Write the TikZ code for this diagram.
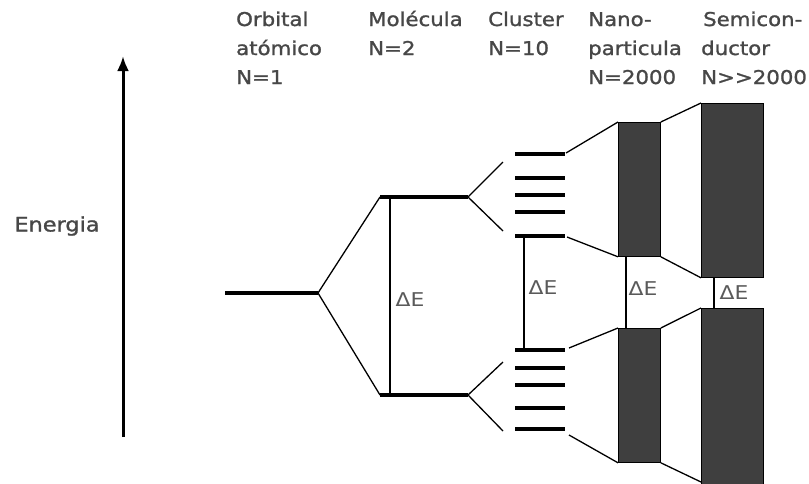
\documentclass[tikz,border=0pt]{standalone}
\usepackage{fontspec}
\usetikzlibrary{arrows.meta}
\newfontfamily\labfont[FakeStretch=1.12,FakeBold=1.3]{DejaVu Sans}
\newfontfamily\defont[FakeStretch=1.15]{DejaVu Sans}
\definecolor{txtgray}{HTML}{474747}
\definecolor{degray}{HTML}{5A5A5A}
\definecolor{bandgray}{HTML}{3F3F3F}
\tikzset{
  lab/.style={anchor=base west, inner sep=0pt, text=txtgray, font=\labfont\fontsize{19}{19}\selectfont},
  delab/.style={anchor=center, inner sep=0pt, text=degray, font=\defont\fontsize{19}{19}\selectfont},
  level/.style={line width=3.6pt},
  thin/.style={line width=1.3pt},
  gapline/.style={line width=1.6pt},
  band/.style={fill=bandgray, draw=black, line width=0.8pt},
}
\begin{document}
\begin{tikzpicture}[x=1pt,y=-1pt]
\useasboundingbox (0,0) rectangle (809,483);
% axis
\coordinate (eb) at (123,437);
\coordinate (et) at (123,56);
\draw[line width=3pt, -{Latex[length=15pt,width=12pt]}] (eb) -- (et);
\node[anchor=center, inner sep=0pt, text=txtgray, font=\labfont\fontsize{20}{20}\selectfont] (energia) at (57,226) {Energia};
% headers
\node[lab] (h11) at (236,26) {Orbital};
\node[lab] (h12) at (236,55) {atómico};
\node[lab] (h13) at (236,84) {N=1};
\node[lab] (h21) at (368,26) {Molécula};
\node[lab] (h22) at (368,55) {N=2};
\node[lab] (h31) at (488,26) {Cluster};
\node[lab] (h32) at (488,55) {N=10};
\node[lab] (h41) at (588,26) {Nano-};
\node[lab] (h42) at (588,55) {particula};
\node[lab] (h43) at (588,84) {N=2000};
\node[lab] (h51) at (703,26) {Semicon-};
\node[lab] (h52) at (701,55) {ductor};
\node[lab] (h53) at (701,84) {N>>2000};
% atomic orbital
\coordinate (a1) at (225,293);
\coordinate (a2) at (318,293);
\draw[level] (a1) -- (a2);
% molecule
\coordinate (m1t) at (380,197); \coordinate (m2t) at (468,197);
\coordinate (m1b) at (380,395); \coordinate (m2b) at (468,395);
\draw[level] (m1t) -- (m2t);
\draw[level] (m1b) -- (m2b);
\draw[thin] (a2) -- (m1t);
\draw[thin] (a2) -- (m1b);
\coordinate (d1t) at (390,197); \coordinate (d1b) at (390,395);
\draw[gapline] (d1t) -- (d1b);
\node[delab] (de1) at (410,300) {ΔE};
% branches to cluster
\coordinate (b1) at (503,162); \coordinate (b2) at (503,231);
\coordinate (b3) at (503,362); \coordinate (b4) at (503,431);
\draw[thin] (b1) -- (m2t) -- (b2);
\draw[thin] (b3) -- (m2b) -- (b4);
% cluster levels
\foreach \y/\n in {154/u1,178/u2,195/u3,212/u4,236/u5,350/l1,368/l2,385/l3,408/l4,429/l5}{
  \coordinate (c\n w) at (515,\y);
  \coordinate (c\n e) at (565,\y);
  \draw[level] (c\n w) -- (c\n e);
}
\coordinate (d2t) at (524,236); \coordinate (d2b) at (524,350);
\draw[gapline] (d2t) -- (d2b);
\node[delab] (de2) at (543,288) {ΔE};
% nanoparticle bands
\node[band, minimum width=42pt, minimum height=134pt, inner sep=0pt, anchor=north west] (nu) at (618,122) {};
\node[band, minimum width=42pt, minimum height=134pt, inner sep=0pt, anchor=north west] (nl) at (618,328) {};
\coordinate (s1) at (566,153); \coordinate (s2) at (567,237);
\coordinate (s3) at (569,348); \coordinate (s4) at (569,435);
\draw[thin] (s1) -- (nu.north west);
\draw[thin] (s2) -- (nu.south west);
\draw[thin] (s3) -- (nl.north west);
\draw[thin] (s4) -- (nl.south west);
\coordinate (d3t) at (626,256); \coordinate (d3b) at (626,328);
\draw[gapline] (d3t) -- (d3b);
\node[delab] (de3) at (643,289) {ΔE};
% semiconductor bands
\node[band, minimum width=62pt, minimum height=174pt, inner sep=0pt, anchor=north west] (su) at (701,103) {};
\node[band, minimum width=62pt, minimum height=180pt, inner sep=0pt, anchor=north west] (sl) at (701,308) {};
\coordinate (sb) at (701,482);
\draw[thin] (nu.north east) -- (su.north west);
\draw[thin] (nu.south east) -- (su.south west);
\draw[thin] (nl.north east) -- (sl.north west);
\draw[thin] (nl.south east) -- (sb);
\coordinate (d4t) at (714,277); \coordinate (d4b) at (714,308);
\draw[gapline] (d4t) -- (d4b);
\node[delab] (de4) at (734,293) {ΔE};
\end{tikzpicture}
\end{document}
